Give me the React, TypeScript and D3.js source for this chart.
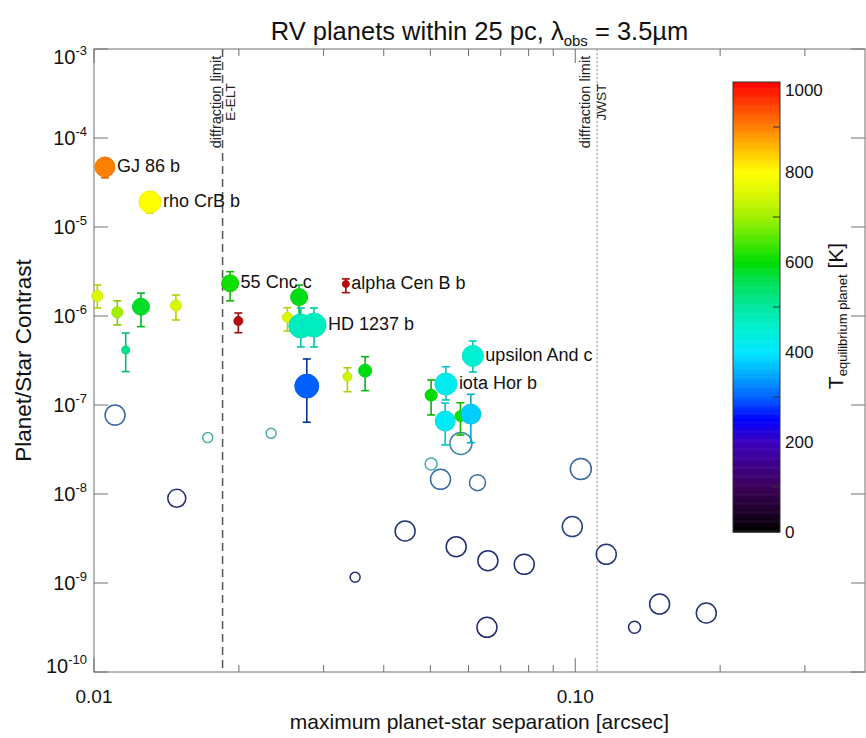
import React from "react";
import * as d3 from "d3";

// ---------- DATA ----------
// Filled points (detected RV planets with error bars)
const planetNames = [
  "GJ 86 b", "rho CrB b", "", "", "", "", "", "55 Cnc c", "", "alpha Cen B b",
  "", "", "", "HD 1237 b", "", "", "", "upsilon And c", "iota Hor b", "", "", "", "",
];
const separation = [
  0.01054, 0.01307, 0.01016, 0.01118, 0.01252, 0.0148, 0.01164, 0.01918, 0.01995, 0.03337,
  0.02668, 0.02523, 0.0269, 0.02866, 0.02768, 0.03362, 0.03659, 0.06127, 0.05385, 0.05018,
  0.05367, 0.05773, 0.06068,
];
const contrast = [
  4.72e-5, 1.91e-5, 1.68e-6, 1.1e-6, 1.27e-6, 1.31e-6, 4.15e-7, 2.33e-6, 8.79e-7, 2.29e-6,
  1.63e-6, 9.66e-7, 7.73e-7, 7.9e-7, 1.63e-7, 2.08e-7, 2.43e-7, 3.56e-7, 1.72e-7, 1.29e-7,
  6.6e-8, 7.5e-8, 7.9e-8,
];
const contrastHi = [
  5.96e-5, 2.47e-5, 2.23e-6, 1.48e-6, 1.81e-6, 1.72e-6, 6.44e-7, 3.15e-6, 1.08e-6, 2.61e-6,
  2.23e-6, 1.24e-6, 1.23e-6, 1.23e-6, 3.29e-7, 2.62e-7, 3.49e-7, 5.24e-7, 2.69e-7, 1.91e-7,
  1.05e-7, 1.06e-7, 1.32e-7,
];
const contrastLo = [
  3.56e-5, 1.44e-5, 1.23e-6, 7.93e-7, 7.59e-7, 9.02e-7, 2.37e-7, 1.48e-6, 6.49e-7, 1.83e-6,
  9.5e-7, 6.78e-7, 4.49e-7, 4.49e-7, 6.4e-8, 1.41e-7, 1.45e-7, 2.35e-7, 1.14e-7, 7.73e-8,
  3.56e-8, 4.6e-8, 3.77e-8,
];
const teq = [
  900, 800, 760, 700, 580, 750, 520, 610, 1080, 1080,
  590, 750, 470, 470, 300, 740, 590, 450, 420, 600,
  410, 610, 380,
];
const planetSize = [
  0.8, 0.9, 0.35, 0.35, 0.65, 0.35, 0.2, 0.65, 0.25, 0.15,
  0.65, 0.3, 1.0, 1.0, 1.0, 0.25, 0.45, 0.85, 0.9, 0.4,
  0.8, 0.35, 0.8,
];

// Open circles (planets without error estimate)
const openSeparation = [
  0.01106, 0.01723, 0.02333, 0.01486, 0.03488, 0.05786, 0.05018, 0.05248, 0.06264, 0.1027,
  0.04431, 0.0986, 0.05657, 0.06584, 0.07834, 0.116, 0.06554, 0.1328, 0.1497, 0.1872,
];
const openContrast = [
  7.7e-8, 4.3e-8, 4.8e-8, 8.95e-9, 1.16e-9, 3.7e-8, 2.17e-8, 1.46e-8, 1.34e-8, 1.91e-8,
  3.84e-9, 4.3e-9, 2.56e-9, 1.78e-9, 1.62e-9, 2.1e-9, 3.18e-10, 3.18e-10, 5.8e-10, 4.6e-10,
];
const openTeq = [
  330, 480, 480, 220, 220, 400, 470, 340, 340, 330,
  230, 260, 220, 220, 220, 240, 210, 220, 230, 230,
];
const openSize = [
  0.8, 0.3, 0.3, 0.7, 0.3, 0.9, 0.4, 0.8, 0.6, 0.85,
  0.8, 0.8, 0.8, 0.8, 0.8, 0.8, 0.8, 0.4, 0.8, 0.8,
];

const yTickExps = [-3, -4, -5, -6, -7, -8, -9, -10];
const xMajorTicks = [0.01, 0.1];
const xMajorLabels = ["0.01", "0.10"];
const xMinorTicks = [0.02, 0.03, 0.04, 0.05, 0.06, 0.07, 0.08, 0.09, 0.2, 0.3];
const cbarLabels = [0, 200, 400, 600, 800, 1000];
const cbarMinor = [100, 300, 500, 700, 900];
const eeltLimit = 0.0185;
const jwstLimit = 0.111;

// colour table stops (temperature -> colour), IDL-like rainbow + black
const cmapT = [0, 100, 200, 250, 300, 350, 400, 450, 500, 560, 600, 650, 700, 750, 800, 850, 900, 950, 1000, 1100];
const cmapC = [
  "#000000", "#3c0058", "#3c00bc", "#0000ff", "#0060ff", "#00a8ff", "#00e8ff", "#00f0d4",
  "#00e8a0", "#00e050", "#00dc00", "#50e800", "#a0f000", "#d8f800", "#ffff00", "#ffc000",
  "#ff8000", "#ff4000", "#ff0000", "#a81010",
];

const FONT = "'Liberation Sans', Arial, Helvetica, sans-serif";

export default function App() {
  const W = 866;
  const H = 738;
  const L = 94, T = 49, R = 865, B = 672;

  const x = d3.scaleLog().domain([0.01, 0.4]).range([L, R]);
  const y = d3.scaleLog().domain([1e-10, 1e-3]).range([B, T]);
  const cmap = d3.scaleLinear<string>().domain(cmapT).range(cmapC).interpolate(d3.interpolateRgb).clamp(true);
  const rScale = d3.scaleLinear().domain([0, 1]).range([2, 12]);
  const outline = d3.scaleLinear<string>().domain([200, 330, 480]).range(["#1e2268", "#3464a0", "#48b0a8"]).clamp(true);

  const cbX = 733, cbW = 47;
  const cbY = d3.scaleLinear().domain([0, 1000]).range([532, 82]);
  const cbSteps = d3.range(0, 1000, 2);

  const filled = separation.map((s, i) => ({
    s, c: contrast[i], lo: contrastLo[i], hi: contrastHi[i], t: teq[i], r: rScale(planetSize[i]), name: planetNames[i],
  }));
  const open = openSeparation.map((s, i) => ({ s, c: openContrast[i], t: openTeq[i], r: rScale(openSize[i]) }));

  const frameColor = "#707070";

  const vlineLabel = (xv: number, off1: number, off2: number, second: string, dash: string, color: string, w: number) => {
    const px = x(xv);
    return (
      <g>
        <line x1={px} x2={px} y1={T} y2={B} stroke={color} strokeWidth={w} strokeDasharray={dash} />
        <text transform={`translate(${px + off1},102) rotate(-90)`} textAnchor="middle" fontSize={14.5} fontFamily={FONT} fill="#222">
          diffraction limit
        </text>
        <text transform={`translate(${px + off2},102) rotate(-90)`} textAnchor="middle" fontSize={13.5} fontFamily={FONT} fill="#222">
          {second}
        </text>
      </g>
    );
  };

  return (
    <svg width={W} height={H} style={{ display: "block", position: "absolute", left: 0, top: 0, background: "#fff" }}>
      <rect x={0} y={0} width={W} height={H} fill="#fff" />
      {/* title */}
      <text x={(L + R) / 2} y={40} textAnchor="middle" fontSize={25.5} fontFamily={FONT} fill="#111">
        RV planets within 25 pc, λ<tspan fontSize={15} dy={6}>obs</tspan>
        <tspan dy={-6}> = 3.5µm</tspan>
      </text>

      {/* frame */}
      <rect x={L} y={T} width={R - L} height={B - T} fill="none" stroke={frameColor} strokeWidth={1} />

      {/* y ticks */}
      {yTickExps.map((e, i) => {
        const py = y(Math.pow(10, e));
        const base = i === 0 ? py + 15 : i === yTickExps.length - 1 ? py + 1 : py + 7;
        return (
          <g key={"yt" + e}>
            <line x1={L} x2={L + 14} y1={py} y2={py} stroke={frameColor} />
            <line x1={R} x2={R - 14} y1={py} y2={py} stroke={frameColor} />
            <text x={L - 7} y={base} textAnchor="end" fontSize={20} fontFamily={FONT} fill="#111">
              10<tspan fontSize={13} dy={-9}>{e}</tspan>
            </text>
          </g>
        );
      })}

      {/* x ticks */}
      {xMajorTicks.map((v, i) => {
        const px = x(v);
        return (
          <g key={"xM" + v}>
            <line x1={px} x2={px} y1={B} y2={B - 14} stroke={frameColor} />
            <line x1={px} x2={px} y1={T} y2={T + 14} stroke={frameColor} />
            <text x={px} y={703} textAnchor="middle" fontSize={19} fontFamily={FONT} fill="#111">
              {xMajorLabels[i]}
            </text>
          </g>
        );
      })}
      {xMinorTicks.map((v) => {
        const px = x(v);
        return (
          <g key={"xm" + v}>
            <line x1={px} x2={px} y1={B} y2={B - 7} stroke={frameColor} />
            <line x1={px} x2={px} y1={T} y2={T + 7} stroke={frameColor} />
          </g>
        );
      })}

      {/* axis titles */}
      <text x={(L + R) / 2} y={729} textAnchor="middle" fontSize={21} fontFamily={FONT} fill="#111">
        maximum planet-star separation [arcsec]
      </text>
      <text transform={`translate(31,${(T + B) / 2}) rotate(-90)`} textAnchor="middle" fontSize={22.5} fontFamily={FONT} fill="#111">
        Planet/Star Contrast
      </text>

      {/* diffraction limits */}
      {vlineLabel(eeltLimit, -2, 12, "E-ELT", "8,5", "#555", 1.5)}
      {vlineLabel(jwstLimit, -7, 9, "JWST", "2,2", "#888", 1)}

      {/* open circles */}
      {open.map((d, i) => (
        <circle key={"o" + i} cx={x(d.s)} cy={y(d.c)} r={d.r} fill="none" stroke={outline(d.t)} strokeWidth={1.5} />
      ))}

      {/* filled points with error bars */}
      {filled.map((d, i) => {
        const px = x(d.s);
        const col = cmap(d.t);
        const ecol = d3.color(col)!.darker(d.t < 350 ? 1.6 : 0.5).formatHex();
        return (
          <g key={"f" + i}>
            <line x1={px} x2={px} y1={y(d.hi)} y2={y(d.lo)} stroke={ecol} strokeWidth={1.6} />
            <line x1={px - 4} x2={px + 4} y1={y(d.hi)} y2={y(d.hi)} stroke={ecol} strokeWidth={1.6} />
            <line x1={px - 4} x2={px + 4} y1={y(d.lo)} y2={y(d.lo)} stroke={ecol} strokeWidth={1.6} />
            <circle cx={px} cy={y(d.c)} r={d.r} fill={col} stroke={d3.color(col)!.darker(0.15).formatHex()} strokeWidth={1} />
          </g>
        );
      })}
      {filled.map((d, i) =>
        d.name ? (
          <text key={"l" + i} x={x(d.s) + d.r + 2} y={y(d.c) + 5} fontSize={18} fontFamily={FONT} fill="#111">
            {d.name}
          </text>
        ) : null
      )}

      {/* colour bar */}
      {cbSteps.map((t) => (
        <rect key={"cb" + t} x={cbX} y={cbY(t + 2)} width={cbW} height={cbY(t) - cbY(t + 2) + 0.6} fill={cmap(t + 1)} />
      ))}
      <rect x={cbX} y={cbY(1000)} width={cbW} height={cbY(0) - cbY(1000)} fill="none" stroke="#333" strokeWidth={1} />
      {cbarMinor.map((t) => (
        <line key={"cbm" + t} x1={cbX + cbW} x2={cbX + cbW - 7} y1={cbY(t)} y2={cbY(t)} stroke="#333" />
      ))}
      {cbarLabels.map((t) => (
        <text key={"cbl" + t} x={cbX + cbW + 5} y={t === 1000 ? cbY(t) + 14 : cbY(t) + 6} fontSize={17} fontFamily={FONT} fill="#111">
          {t}
        </text>
      ))}
      <text transform={`translate(843,316) rotate(-90)`} textAnchor="middle" fontSize={21} fontFamily={FONT} fill="#111">
        T<tspan fontSize={13} dy={4}>equilibrium planet</tspan>
        <tspan dy={-4}> [K]</tspan>
      </text>
    </svg>
  );
}
